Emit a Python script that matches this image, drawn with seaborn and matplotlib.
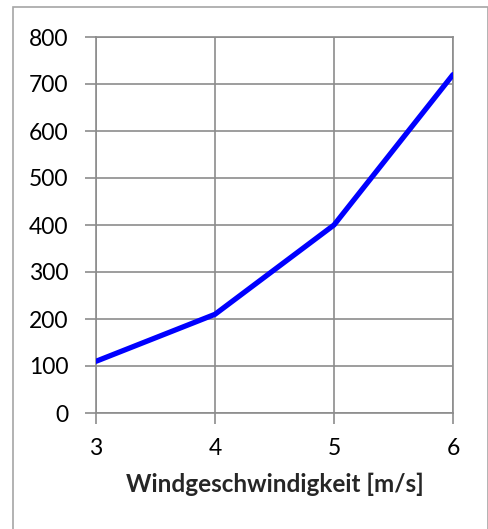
import numpy as np
import pandas as pd
import seaborn as sns
import matplotlib.pyplot as plt
from matplotlib.patches import Rectangle

wind_speed = [3, 4, 5, 6]
power = [110, 210, 400, 720]
y_ticks = [0, 100, 200, 300, 400, 500, 600, 700, 800]

sns.set_style("white")
plt.rcParams['font.family'] = ['Lato', 'DejaVu Sans']

W, H = 489, 529
fig = plt.figure(figsize=(W / 100, H / 100), dpi=100)
ax = fig.add_axes([96 / W, (H - 413) / H, (453 - 96) / W, (413 - 37) / H])

df = pd.DataFrame({"v": wind_speed, "p": power})
sns.lineplot(data=df, x="v", y="p", ax=ax, color="#0000ff", linewidth=3.8,
             solid_capstyle="round", zorder=3)

grid_col = "#8c8c8c"
ax.set_xlim(3, 6)
ax.set_ylim(0, 800)
ax.set_xticks(wind_speed)
ax.set_yticks(y_ticks)
ax.grid(True, color=grid_col, linewidth=1.2)
for s in ax.spines.values():
    s.set_color(grid_col)
    s.set_linewidth(1.2)
ax.tick_params(axis="both", which="both", length=8, width=1.2, color=grid_col,
               labelsize=16.5, labelcolor="black")
ax.tick_params(axis="y", pad=12, left=True)
ax.tick_params(axis="x", pad=10, bottom=True)
ax.set_ylabel("")
ax.set_xlabel("Windgeschwindigkeit [m/s]", fontsize=17.5, fontweight="bold", labelpad=10)

fig.patches.append(Rectangle((13 / W, -0.05), (488 - 13) / W, 1.05 - 7 / H,
                             transform=fig.transFigure, fill=False,
                             edgecolor="#a6a6a6", linewidth=1.2))

fig.savefig("out.png", dpi=100)
